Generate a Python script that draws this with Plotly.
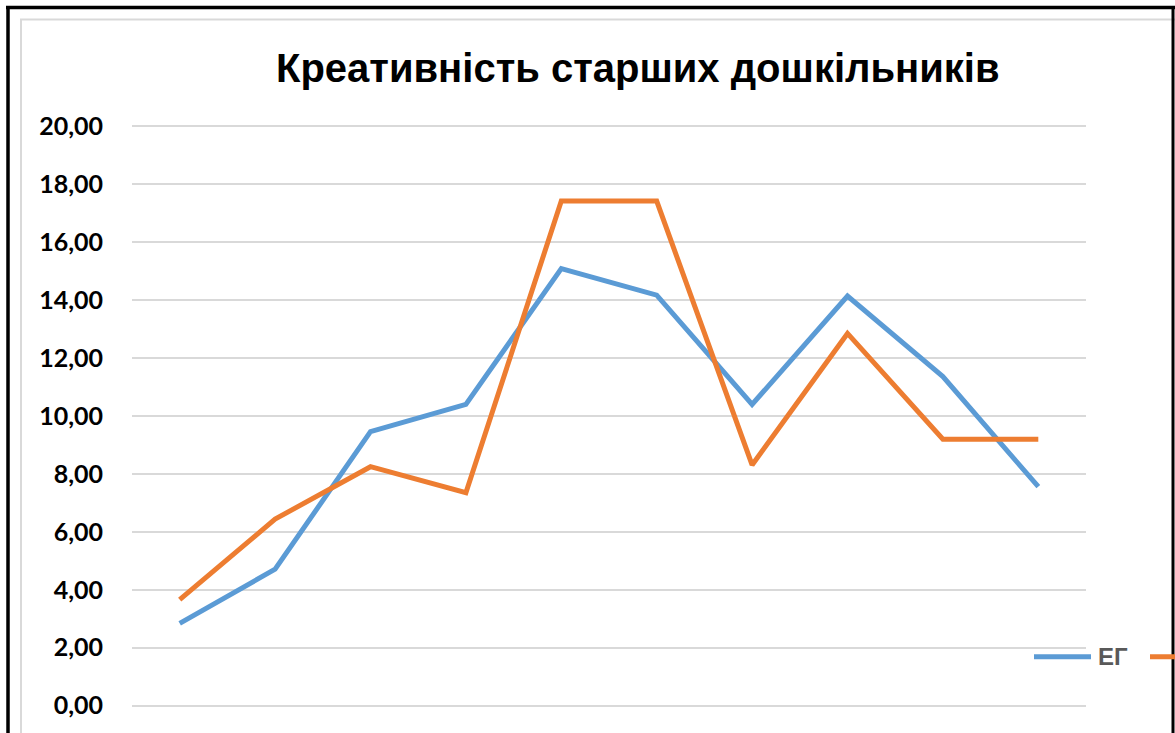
import plotly.graph_objects as go

categories = ["1", "2", "3", "4", "5", "6", "7", "8", "9", "10"]
eg_values = [2.84, 4.71, 9.46, 10.40, 15.09, 14.17, 10.40, 14.14, 11.36, 7.56]
kg_values = [3.66, 6.44, 8.25, 7.35, 17.42, 17.42, 8.31, 12.85, 9.20, 9.20]
series_names = ["ЕГ", "КГ"]
y_ticks = [0, 2, 4, 6, 8, 10, 12, 14, 16, 18, 20]
y_tick_labels = [f"{v:.2f}".replace(".", ",") for v in y_ticks]
title_text = "Креативність старших дошкільників"

W, H = 1175, 733
PPU = 29.0  # pixels per y unit
Y0_PX = 706  # pixel of value 0
PAD = 0.15
L, R = 132, 1086
T = Y0_PX - (20 + PAD) * PPU
B = Y0_PX + PAD * PPU
BLUE, ORANGE = "#5B9BD5", "#ED7D31"

def px(x):
    return (x - L) / (R - L)

def py(y):
    return (B - y) / (B - T)

fig = go.Figure()
fig.add_trace(go.Scatter(x=categories, y=eg_values, mode="lines", name=series_names[0],
                         line=dict(color=BLUE, width=5), showlegend=False))
fig.add_trace(go.Scatter(x=categories, y=kg_values, mode="lines", name=series_names[1],
                         line=dict(color=ORANGE, width=5), showlegend=False))

shapes = []
shapes.append(dict(type="rect", xref="paper", yref="paper", x0=px(21), x1=px(1180), y0=py(19), y1=py(760),
                   line=dict(color="#d9d9d9", width=2), fillcolor="rgba(0,0,0,0)", layer="below"))
shapes.append(dict(type="line", xref="paper", yref="paper", x0=px(8), x1=px(8), y0=py(6), y1=py(740),
                   line=dict(color="black", width=3.5)))
shapes.append(dict(type="line", xref="paper", yref="paper", x0=px(6), x1=px(1175), y0=py(7), y1=py(7),
                   line=dict(color="black", width=3.5)))
shapes.append(dict(type="line", xref="paper", yref="paper", x0=px(1173), x1=px(1173), y0=py(6), y1=py(740),
                   line=dict(color="black", width=3)))
shapes.append(dict(type="line", xref="paper", yref="paper", x0=px(1034), x1=px(1091), y0=py(657), y1=py(657),
                   line=dict(color=BLUE, width=5)))
shapes.append(dict(type="line", xref="paper", yref="paper", x0=px(1150), x1=px(1185), y0=py(657), y1=py(657),
                   line=dict(color=ORANGE, width=5)))

annotations = [
    dict(text=title_text, xref="paper", yref="paper", x=px(638), y=py(68), showarrow=False,
         xanchor="center", yanchor="middle",
         font=dict(family="Liberation Sans, Arial", size=40, color="black", weight="bold")),
    dict(text=series_names[0], xref="paper", yref="paper", x=px(1096), y=py(657), showarrow=False,
         xanchor="left", yanchor="middle",
         font=dict(family="Liberation Sans, Arial", size=24, color="#595959", weight="bold")),
]

fig.update_layout(
    width=W, height=H,
    margin=dict(l=L, r=W - R, t=T, b=H - B, pad=0),
    paper_bgcolor="white", plot_bgcolor="white",
    shapes=shapes, annotations=annotations,
    showlegend=False,
    xaxis=dict(type="category", range=[-0.5, 9.5], showgrid=False, showticklabels=False,
               zeroline=False, showline=False, fixedrange=True),
    yaxis=dict(range=[-PAD, 20 + PAD], tickvals=y_ticks, ticktext=y_tick_labels, showgrid=True,
               gridcolor="#d9d9d9", gridwidth=2, zeroline=False, showline=False, ticks="",
               ticklabelstandoff=28,
               tickfont=dict(family="Lato, Carlito, sans-serif", size=25, color="black", weight="bold")),
)

fig.write_html("out.html", config={"displayModeBar": False},
               post_script="document.body.style.margin='0px';")
